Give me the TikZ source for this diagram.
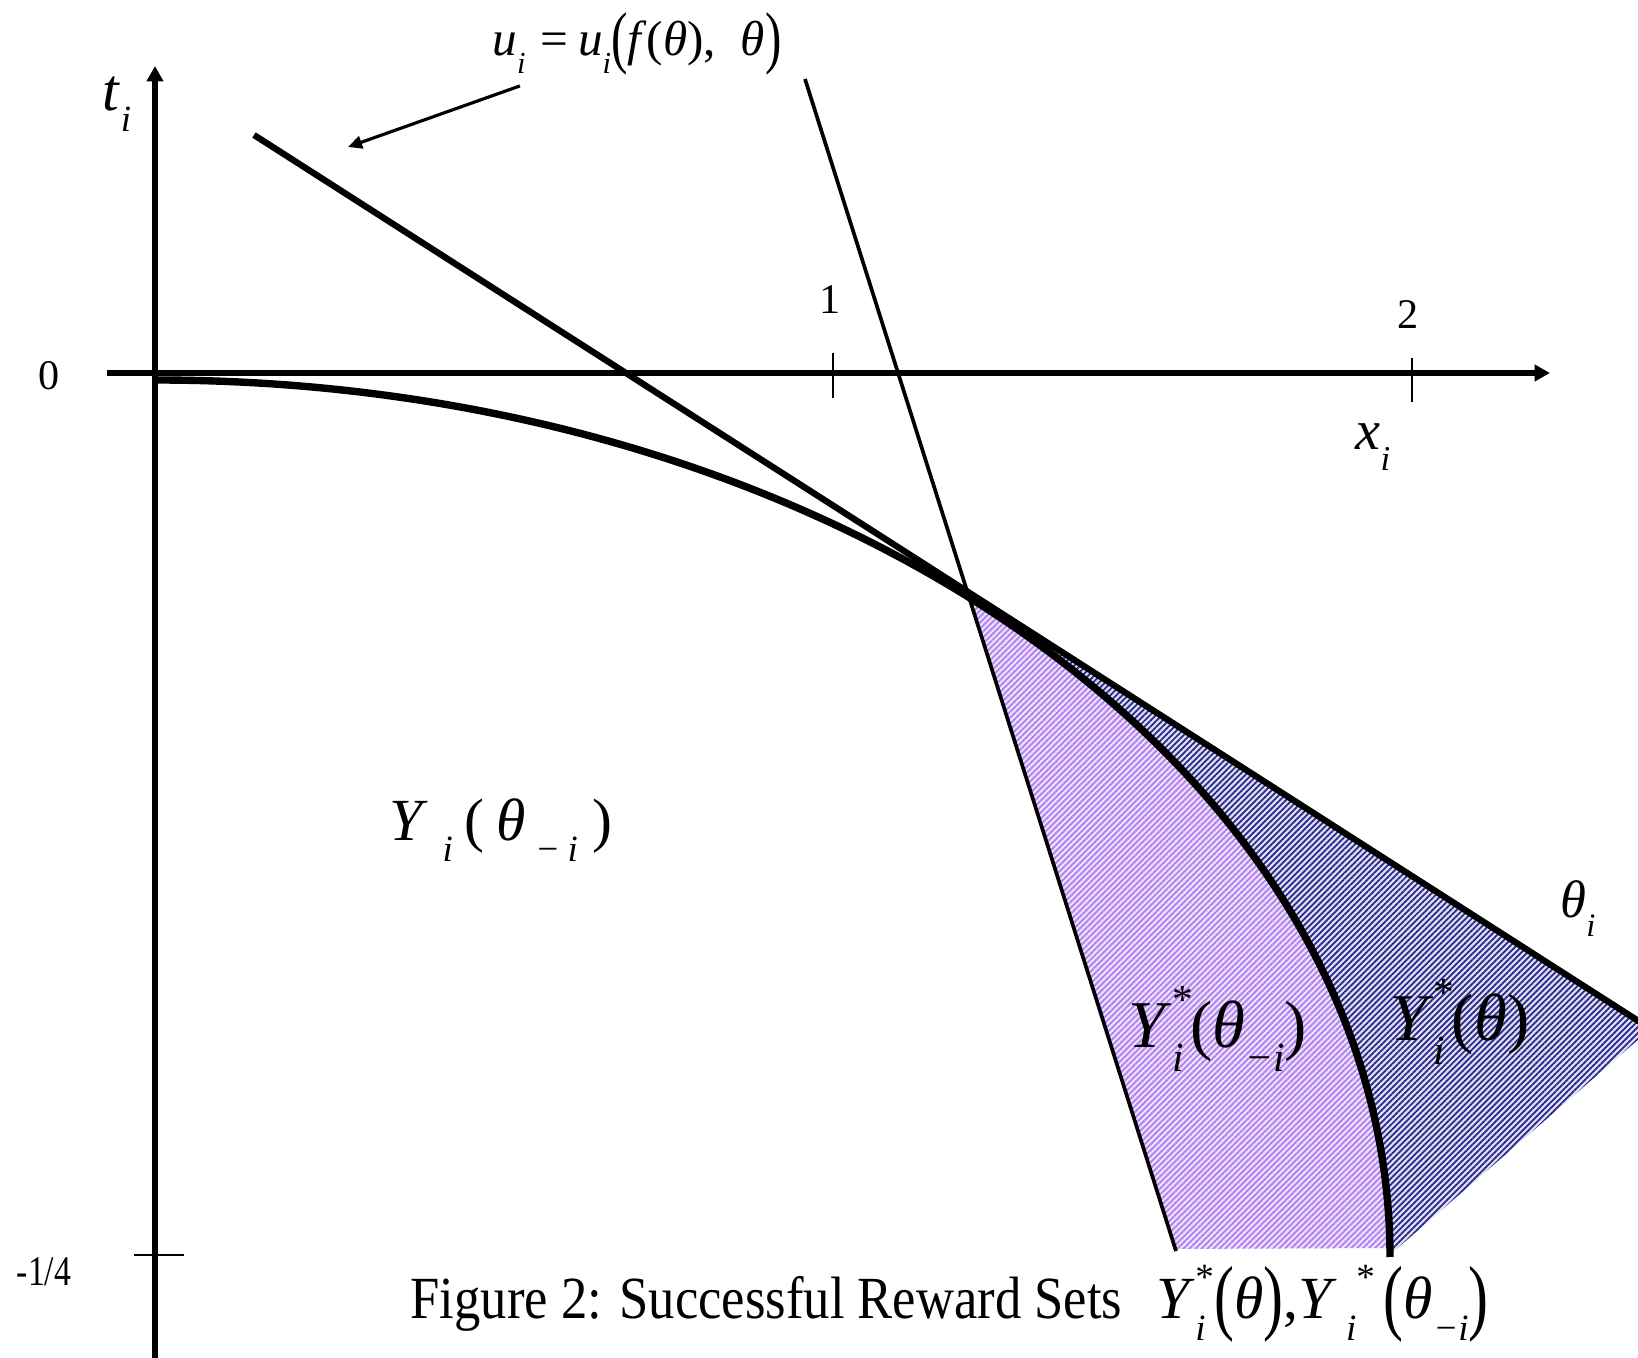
\documentclass[tikz,border=0pt]{standalone}
\usepackage{fontspec}
\setmainfont{Liberation Serif}
\usepackage{graphicx}
\usetikzlibrary{arrows.meta, patterns.meta}

\definecolor{lavender}{RGB}{182,134,240}
\definecolor{lavenderbg}{RGB}{240,232,253}
\definecolor{navyhatch}{RGB}{40,40,140}
\definecolor{navybg}{RGB}{222,222,242}

% italic letter, lowered index, index with star on top
\newcommand{\vv}[1]{\textit{#1}}
\newcommand{\lo}[1]{\raisebox{-0.36em}{\scalebox{0.62}{\textit{#1}}}}
\newcommand{\hi}[1]{\raisebox{0.5em}{\scalebox{0.62}{#1}}}
\newcommand{\hilo}[2]{\rlap{\raisebox{0.5em}{\scalebox{0.62}{#2}}}\raisebox{-0.36em}{\scalebox{0.62}{\textit{#1}}}}
\newcommand{\tallpar}[1]{\raisebox{-0.1em}{\scalebox{1}[1.4]{#1}}}

\begin{document}
\begin{tikzpicture}[
        x=0.01cm, y=0.01cm,
        axis/.style={line width=1.5pt, -{Triangle[length=4.4pt, width=4.6pt]}},
        tickmark/.style={line width=0.6pt},
        curve/.style={line width=2.1pt},
        tangent/.style={line width=1.8pt},
        steep/.style={line width=1.05pt},
        labelarrow/.style={line width=0.9pt, -{Triangle[length=4pt, width=3.6pt]}},
        purplehatch/.style={preaction={fill=lavenderbg}, pattern={Lines[angle=45, distance=1.2pt, line width=0.6pt]}, pattern color=lavender},
        bluehatch/.style={preaction={fill=navybg}, pattern={Lines[angle=45, distance=1.2pt, line width=0.5pt]}, pattern color=navyhatch},
        lbl/.style={inner sep=0pt}
    ]

    \useasboundingbox (0,0) rectangle (1638,-1358);

    % Hatched reward sets
    \path[purplehatch] (970,-599) -- (1175,-1249) -- (1390,-1248)
        arc[start angle=0.6, end angle=48.7, x radius=1235, y radius=877] -- cycle;
    \path[bluehatch] (967,-592) -- (1640,-1023) -- (1640,-1038) -- (1393,-1252) -- (1390,-1248)
        arc[start angle=0.6, end angle=48.7, x radius=1235, y radius=877] -- cycle;

    % Curve and the two lines
    \draw[curve] (155,-380) arc[start angle=90, end angle=0, x radius=1235, y radius=877];
    \draw[tangent] (254,-135) -- (1640,-1022);
    \draw[steep] (805,-79) -- (1176,-1251);

    % Axes and ticks
    \draw[axis] (155,-1358) -- (155,-66);
    \draw[axis] (107,-373) -- (1550,-373);
    \draw[tickmark] (833,-353) -- (833,-398);
    \draw[tickmark] (1412,-358) -- (1412,-402);
    \draw[tickmark] (134,-1255) -- (184,-1255);

    % Axis labels
    \node[lbl, font=\fontsize{17}{20}\selectfont] (tlabel) at (117,-104) {\vv{t}\lo{i}};
    \node[lbl, font=\fontsize{16}{19}\selectfont] (xlabel) at (1373,-447) {\vv{x}\lo{i}};
    \node[lbl, font=\fontsize{15}{18}\selectfont] (thetalabel) at (1578,-909) {\vv{θ}\lo{i}};
    \node[lbl, font=\fontsize{12}{14}\selectfont] (zero) at (49,-376) {0};
    \node[lbl, font=\fontsize{12}{14}\selectfont] (one) at (830,-300) {1};
    \node[lbl, font=\fontsize{12}{14}\selectfont] (two) at (1408,-315) {2};
    \node[lbl, font=\fontsize{12}{14}\selectfont] (quarter) at (44,-1272) {\scalebox{0.8}[1]{-1/4}};

    % Level set label
    \node[lbl, font=\fontsize{14}{17}\selectfont] (ulabel) at (637,-44)
        {\vv{u}\lo{i}\hspace{0.3em}=\hspace{0.2em}\vv{u}\lo{i}\tallpar{(}\vv{f}(\vv{θ}),\hspace{0.5em}\vv{θ}\tallpar{)}};
    \coordinate (utip) at (348,-147);
    \draw[labelarrow] ([xshift=28*0.01cm, yshift=-10*0.01cm]ulabel.south west) -- (utip);

    % Set labels
    \node[lbl, font=\fontsize{17}{20}\selectfont] (yset) at (501,-830)
        {\vv{Y}\hspace{0.25em}\lo{i}\hspace{0.2em}(\hspace{0.2em}\vv{θ}\hspace{0.15em}\lo{−\hspace{0.2em}i}\hspace{0.25em})};
    \node[lbl, font=\fontsize{19}{22}\selectfont] (ystarminus) at (1218,-1029)
        {\vv{Y}\hilo{i}{*}\hspace{0.1em}(\vv{θ}\lo{−i})};
    \node[lbl, font=\fontsize{19}{22}\selectfont] (ystar) at (1460,-1022)
        {\vv{Y}\hilo{i}{*}\hspace{0.1em}(\vv{θ})};

    % Caption
    \node[lbl, anchor=base west, font=\fontsize{17}{20}\selectfont] (caption) at (410,-1319)
        {\scalebox{0.88}[1]{Figure 2: Successful Reward Sets}};
    \node[lbl, anchor=base west, font=\fontsize{17}{20}\selectfont] (capmath) at (1156,-1319)
        {\vv{Y}\hilo{i}{*}\hspace{0.15em}\tallpar{(}\vv{θ}\tallpar{)},\vv{Y}\hspace{0.15em}\lo{i}\hi{*}\hspace{0.15em}\tallpar{(}\vv{θ}\lo{−i}\tallpar{)}};

\end{tikzpicture}
\end{document}
